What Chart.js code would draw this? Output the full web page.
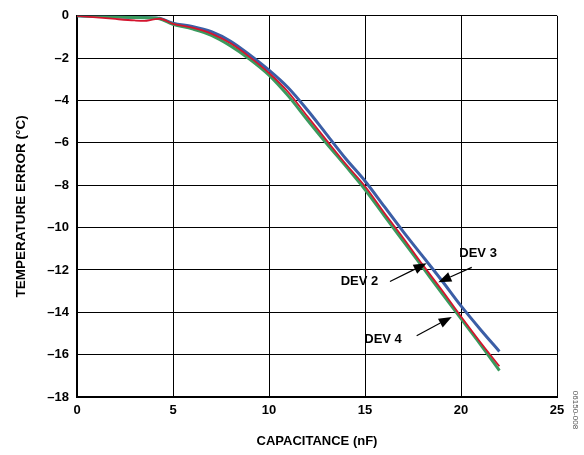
<!DOCTYPE html>
<html>
<head>
<meta charset="utf-8">
<script src="https://cdn.jsdelivr.net/npm/chart.js@4.4.1/dist/chart.umd.min.js"></script>
<style>
  html, body { margin: 0; padding: 0; background: #fff; }
  #wrap { width: 584px; height: 455px; }
</style>
</head>
<body>
<div id="wrap"><canvas id="chart"></canvas></div>
<script>
const capacitance = [0, 1, 2, 3, 3.5, 4, 4.3, 5, 6, 7, 8, 9, 10, 11, 12, 13, 14, 15, 16, 17, 18, 19, 20, 21, 22];
const dev3 = [0, -0.02, -0.05, -0.07, -0.08, -0.1, -0.12, -0.35, -0.5, -0.75, -1.2, -1.85, -2.57, -3.4, -4.45, -5.6, -6.75, -7.8, -9.0, -10.2, -11.35, -12.5, -13.7, -14.8, -15.85];
const dev2 = [0, -0.07, -0.15, -0.22, -0.24, -0.17, -0.14, -0.38, -0.56, -0.84, -1.3, -1.95, -2.7, -3.6, -4.75, -5.88, -7.0, -8.05, -9.3, -10.5, -11.75, -12.95, -14.2, -15.4, -16.55];
const dev4 = [0, -0.02, -0.05, -0.08, -0.09, -0.1, -0.14, -0.4, -0.62, -0.92, -1.42, -2.05, -2.8, -3.78, -4.92, -6.03, -7.1, -8.2, -9.43, -10.65, -11.87, -13.1, -14.3, -15.5, -16.75];

const xTicks = [0, 5, 10, 15, 20, 25];
const yTicks = [0, -2, -4, -6, -8, -10, -12, -14, -16, -18];

// labels with arrows, in data units: [text, labelX, labelY, tailX, tailY, tipX, tipY]
const callouts = [
    ['DEV 3', 20.89, -11.21, 20.56, -11.88, 18.82, -12.58],
    ['DEV 2', 14.71, -12.55, 16.3, -12.55, 18.21, -11.69],
    ['DEV 4', 15.94, -15.27, 17.69, -15.11, 19.52, -14.22]
];

const font = "'Liberation Sans', Arial, sans-serif";

function pts(ys) {
    return capacitance.map((x, i) => ({ x: x, y: ys[i] }));
}

const calloutPlugin = {
    id: 'callouts',
    afterDatasetsDraw(chart) {
        const ctx = chart.ctx;
        const xs = chart.scales.x;
        const ys = chart.scales.y;
        ctx.save();
        ctx.fillStyle = '#000';
        ctx.strokeStyle = '#000';
        ctx.font = 'bold 13px ' + font;
        ctx.textAlign = 'center';
        ctx.textBaseline = 'middle';
        callouts.forEach(c => {
            ctx.fillText(c[0], xs.getPixelForValue(c[1]), ys.getPixelForValue(c[2]));
            const x1 = xs.getPixelForValue(c[3]), y1 = ys.getPixelForValue(c[4]);
            const x2 = xs.getPixelForValue(c[5]), y2 = ys.getPixelForValue(c[6]);
            const a = Math.atan2(y2 - y1, x2 - x1);
            const len = 13, half = 5;
            const bx = x2 - len * Math.cos(a), by = y2 - len * Math.sin(a);
            ctx.lineWidth = 1.2;
            ctx.beginPath();
            ctx.moveTo(x1, y1);
            ctx.lineTo(bx, by);
            ctx.stroke();
            ctx.beginPath();
            ctx.moveTo(x2, y2);
            ctx.lineTo(bx + half * Math.sin(a), by - half * Math.cos(a));
            ctx.lineTo(bx - half * Math.sin(a), by + half * Math.cos(a));
            ctx.closePath();
            ctx.fill();
        });
        // figure number down the right edge
        ctx.translate(575, 410);
        ctx.rotate(Math.PI / 2);
        ctx.font = '8px ' + font;
        ctx.fillStyle = '#555';
        ctx.fillText('06150-008', 0, 0);
        ctx.restore();
    }
};

new Chart(document.getElementById('chart'), {
    type: 'line',
    data: {
        datasets: [
            { label: 'DEV 3', data: pts(dev3), borderColor: '#3b5ea6', borderWidth: 3, order: 3 },
            { label: 'DEV 4', data: pts(dev4), borderColor: '#3a9a5e', borderWidth: 3, order: 2 },
            { label: 'DEV 2', data: pts(dev2), borderColor: '#d4142e', borderWidth: 1.8, order: 1 }
        ]
    },
    options: {
        responsive: true,
        maintainAspectRatio: false,
        animation: false,
        elements: {
            point: { radius: 0 },
            line: { cubicInterpolationMode: 'monotone', fill: false }
        },
        layout: { padding: { top: 13, right: 27, left: 9, bottom: 0 } },
        plugins: {
            legend: { display: false },
            tooltip: { enabled: false }
        },
        scales: {
            x: {
                type: 'linear',
                min: 0,
                max: 25,
                afterBuildTicks: s => { s.ticks = xTicks.map(v => ({ value: v })); },
                afterFit: s => { s.height = 58; },
                grid: { color: '#000', lineWidth: 1, drawTicks: false },
                border: { color: '#000', width: 2 },
                ticks: { color: '#000', font: { family: font, size: 13, weight: 'bold' }, padding: 6, maxRotation: 0 },
                title: { display: true, text: 'CAPACITANCE (nF)', color: '#000', font: { family: font, size: 13, weight: 'bold' }, padding: { top: 0, bottom: 6 } }
            },
            y: {
                min: -18,
                max: 0,
                afterBuildTicks: s => { s.ticks = yTicks.map(v => ({ value: v })); },
                afterFit: s => { s.width = 68; },
                grid: { color: '#000', lineWidth: 1, drawTicks: false },
                border: { color: '#000', width: 2 },
                ticks: {
                    color: '#000',
                    font: { family: font, size: 13, weight: 'bold' },
                    padding: 8,
                    callback: v => String(v).replace('-', '\u2013')
                },
                title: { display: true, text: 'TEMPERATURE ERROR (°C)', color: '#000', font: { family: font, size: 13.5, weight: 'bold' }, padding: { bottom: 4 } }
            }
        }
    },
    plugins: [calloutPlugin]
});
</script>
</body>
</html>
